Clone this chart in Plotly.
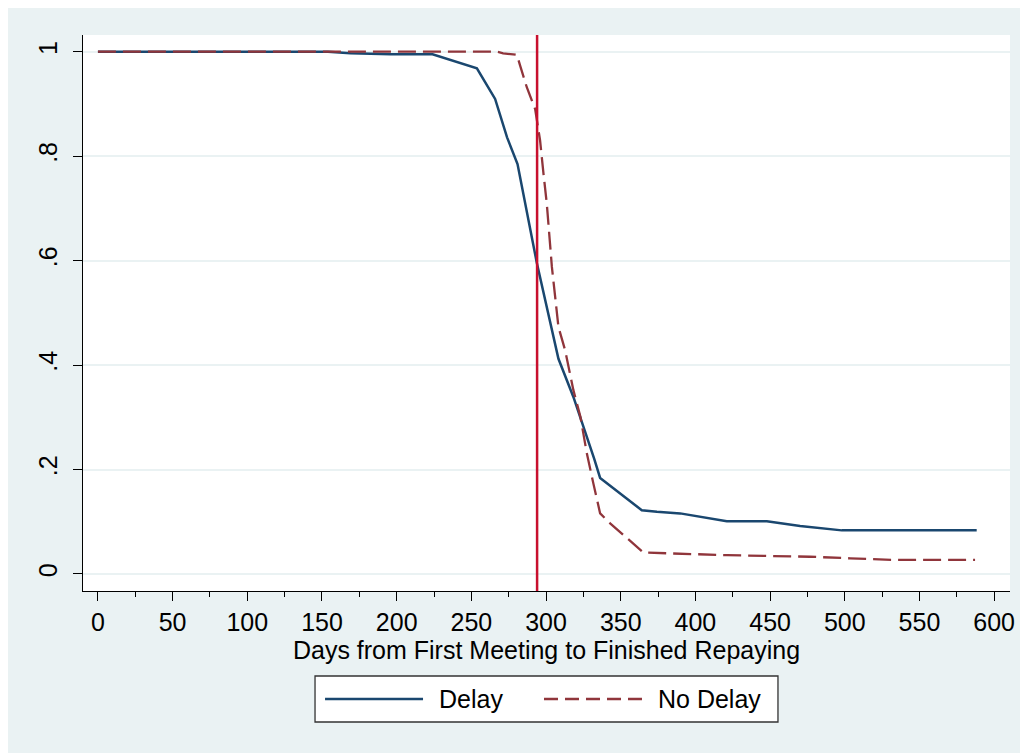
import plotly.graph_objects as go

# ---- data ----
delay_days = [0, 154, 169, 196, 224, 253.7, 265.9, 273.9, 280.9, 293.8, 308.3, 318.3,
              332.2, 336.2, 364.1, 374.2, 389.8, 403.2, 421, 447.8, 470.1, 498, 588.3]
delay_surv = [1.0, 1.0, 0.997, 0.995, 0.995, 0.968, 0.9095, 0.836, 0.785, 0.596, 0.412, 0.339,
              0.221, 0.184, 0.122, 0.119, 0.116, 0.109, 0.101, 0.101, 0.092, 0.0835, 0.0835]

nodelay_days = [0, 267, 271.3, 280.5, 282.7, 287.1, 292.7, 296, 298.3, 300.5, 303.9, 306.1,
                308.3, 312.8, 315, 318.3, 323, 327.3, 331.7, 336.2, 342.9, 354.1, 365.2,
                421, 476.8, 503.6, 532.5, 587.2]
nodelay_surv = [1.0, 1.0, 0.997, 0.994, 0.973, 0.932, 0.89, 0.83, 0.766, 0.709, 0.588, 0.524,
                0.473, 0.428, 0.396, 0.352, 0.301, 0.231, 0.173, 0.116, 0.097, 0.068, 0.041,
                0.036, 0.033, 0.030, 0.027, 0.027]

vline_day = 294

x_ticks = list(range(0, 601, 50))
y_ticks = [0, 0.2, 0.4, 0.6, 0.8, 1.0]
y_ticktext = ["0", ".2", ".4", ".6", ".8", "1"]

series_names = ["Delay", "No Delay"]
x_title = "Days from First Meeting to Finished Repaying"

NAVY = "#1A476F"
MAROON = "#90353B"
VRED = "#C8102E"
BG = "#EAF2F3"
FONT = "Liberation Sans, Arial, sans-serif"
FS = 25

fig = go.Figure()
fig.add_trace(go.Scatter(x=delay_days, y=delay_surv, mode="lines", name=series_names[0],
                         line=dict(color=NAVY, width=2.5), showlegend=False))
fig.add_trace(go.Scatter(x=nodelay_days, y=nodelay_surv, mode="lines", name=series_names[1],
                         line=dict(color=MAROON, width=2.3, dash="18px,7px"), showlegend=False))

fig.add_vline(x=vline_day, line=dict(color=VRED, width=2.5))

LEG_Y = -0.1942
shapes = [
    # legend box
    dict(type="rect", xref="paper", yref="paper", x0=0.2503, x1=0.7497, y0=-0.2356, y1=-0.1529,
         fillcolor="white", line=dict(color="#333333", width=1.3)),
    # legend samples
    dict(type="line", xref="paper", yref="paper", x0=0.2611, x1=0.3668, y0=LEG_Y, y1=LEG_Y,
         line=dict(color=NAVY, width=2.5)),
    dict(type="line", xref="paper", yref="paper", x0=0.4973, x1=0.6030, y0=LEG_Y, y1=LEG_Y,
         line=dict(color=MAROON, width=2.3, dash="14px,7px")),
]
for s in shapes:
    fig.add_shape(**s)

fig.add_annotation(xref="paper", yref="paper", x=0.382, y=LEG_Y, text=series_names[0],
                   showarrow=False, xanchor="left", yanchor="middle",
                   font=dict(family=FONT, size=FS, color="black"))
fig.add_annotation(xref="paper", yref="paper", x=0.618, y=LEG_Y, text=series_names[1],
                   showarrow=False, xanchor="left", yanchor="middle",
                   font=dict(family=FONT, size=FS, color="black"))

fig.update_layout(
    width=1020, height=745,
    margin=dict(l=75, r=18, t=27, b=162),
    paper_bgcolor=BG,
    plot_bgcolor="white",
    font=dict(family=FONT, size=FS, color="black"),
    xaxis=dict(
        range=[-10.0, 610.6], tickvals=x_ticks, ticks="outside", ticklen=9, tickwidth=1.2,
        tickcolor="black", showline=True, linecolor="black", linewidth=1.2,
        showgrid=False, zeroline=False,
        minor=dict(dtick=25, tick0=0, ticks="outside", ticklen=5, tickwidth=1.2, tickcolor="black",
                   showgrid=False),
        tickfont=dict(family=FONT, size=FS), ticklabelstandoff=0,
        title=dict(text=x_title, font=dict(family=FONT, size=FS), standoff=0),
    ),
    yaxis=dict(
        range=[-0.0326, 1.032], tickvals=y_ticks, ticktext=y_ticktext, tickangle=-90,
        ticks="outside", ticklen=9, tickwidth=1.2, tickcolor="black",
        showline=True, linecolor="black", linewidth=1.2,
        showgrid=True, gridcolor=BG, gridwidth=2, zeroline=False,
        tickfont=dict(family=FONT, size=FS), ticklabelstandoff=6,
    ),
)

fig.write_html("out.html")
